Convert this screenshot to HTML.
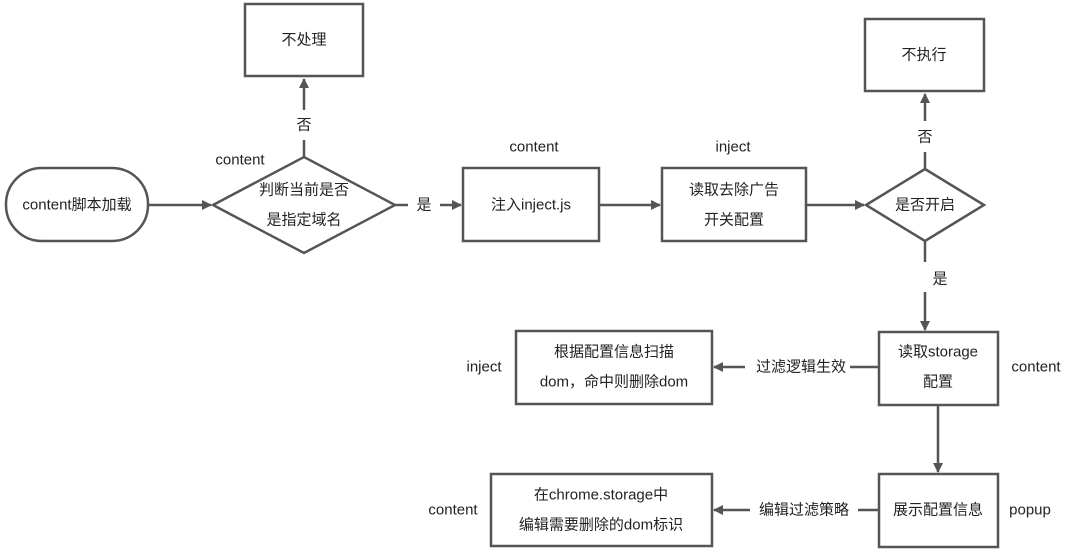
<!DOCTYPE html>
<html><head><meta charset="utf-8"><style>
html,body{margin:0;padding:0;background:#fff;}
svg text{font-family:"Liberation Sans","Noto Sans CJK SC",sans-serif;font-size:15px;fill:#222;}
</style></head><body>
<svg width="1080" height="549" viewBox="0 0 1080 549" xmlns="http://www.w3.org/2000/svg">
<defs><marker id="a" markerWidth="10" markerHeight="10" refX="9" refY="5" orient="auto" markerUnits="userSpaceOnUse"><path d="M0,0 L10,5 L0,10 z" fill="#555"/></marker></defs>
<g fill="none" stroke="#555" stroke-width="2.5">
<rect x="245" y="4" width="118" height="72"/>
<rect x="6" y="168" width="142" height="73" rx="36"/>
<polygon points="213,205 304,157 395,205 304,253"/>
<rect x="463" y="168" width="136" height="73"/>
<rect x="662" y="168" width="144" height="73"/>
<polygon points="866,205 925,169 984,205 925,241"/>
<rect x="865" y="19" width="119" height="72"/>
<rect x="879" y="332" width="119" height="73"/>
<rect x="516" y="331" width="196" height="73"/>
<rect x="879" y="474" width="119" height="73"/>
<rect x="491" y="474" width="221" height="72"/>
<line x1="148" y1="205" x2="211" y2="205" marker-end="url(#a)"/>
<line x1="304" y1="157" x2="304" y2="140"/>
<line x1="304" y1="110" x2="304" y2="79" marker-end="url(#a)"/>
<line x1="395" y1="205" x2="408" y2="205"/>
<line x1="440" y1="205" x2="461" y2="205" marker-end="url(#a)"/>
<line x1="599" y1="205" x2="660" y2="205" marker-end="url(#a)"/>
<line x1="806" y1="205" x2="864" y2="205" marker-end="url(#a)"/>
<line x1="925" y1="169" x2="925" y2="152"/>
<line x1="925" y1="121" x2="925" y2="94" marker-end="url(#a)"/>
<line x1="925" y1="241" x2="925" y2="262"/>
<line x1="925" y1="292" x2="925" y2="330" marker-end="url(#a)"/>
<line x1="879" y1="367" x2="850" y2="367"/>
<line x1="745" y1="367" x2="714" y2="367" marker-end="url(#a)"/>
<line x1="938" y1="405" x2="938" y2="472" marker-end="url(#a)"/>
<line x1="879" y1="510" x2="858" y2="510"/>
<line x1="750" y1="510" x2="714" y2="510" marker-end="url(#a)"/>
</g>
<g text-anchor="middle" dominant-baseline="central">
<text x="304" y="40">不处理</text>
<text x="77" y="205">content脚本加载</text>
<text x="304" y="125">否</text>
<text x="240" y="160">content</text>
<text x="304" y="190">判断当前是否</text>
<text x="304" y="220">是指定域名</text>
<text x="424" y="205">是</text>
<text x="534" y="147">content</text>
<text x="531" y="205">注入inject.js</text>
<text x="733" y="147">inject</text>
<text x="734" y="190">读取去除广告</text>
<text x="734" y="220">开关配置</text>
<text x="925" y="205">是否开启</text>
<text x="924" y="55">不执行</text>
<text x="925" y="137">否</text>
<text x="940" y="279">是</text>
<text x="938" y="352">读取storage</text>
<text x="938" y="382">配置</text>
<text x="1036" y="367">content</text>
<text x="801" y="367">过滤逻辑生效</text>
<text x="484" y="367">inject</text>
<text x="614" y="352">根据配置信息扫描</text>
<text x="614" y="382">dom，命中则删除dom</text>
<text x="938" y="510">展示配置信息</text>
<text x="1030" y="510">popup</text>
<text x="804" y="510">编辑过滤策略</text>
<text x="453" y="510">content</text>
<text x="601" y="495">在chrome.storage中</text>
<text x="601" y="525">编辑需要删除的dom标识</text>
</g>
</svg>
</body></html>
